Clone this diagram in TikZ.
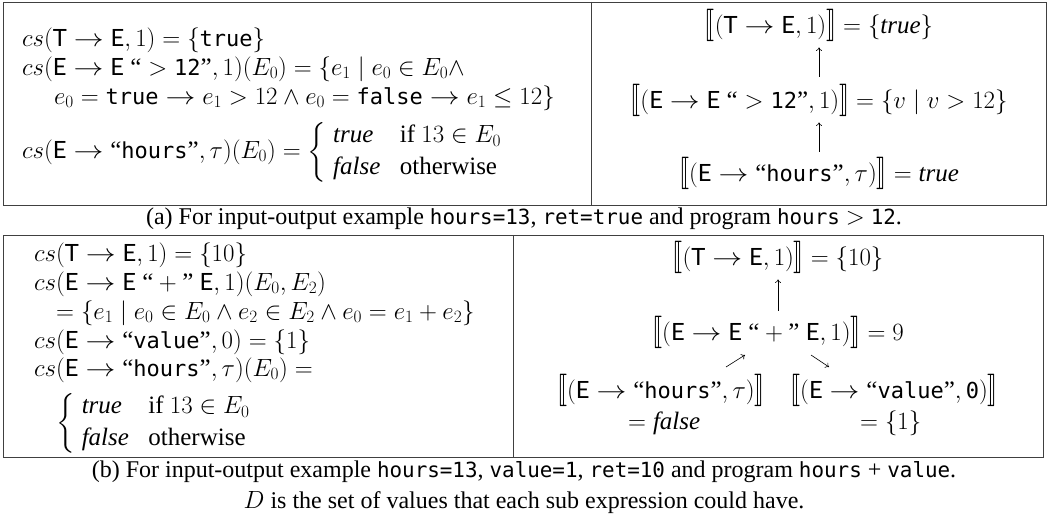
\documentclass[tikz,border=0pt]{standalone}
\usepackage{amsmath}
\usepackage{stmaryrd}
\usepackage{graphicx}
\usepackage{fontspec}
\setmainfont{Liberation Serif}
\setsansfont{Lato}[Scale=0.95]
\setmonofont{DejaVu Sans Mono}[Scale=0.87]
\newfontfamily\mathttfont{DejaVu Sans Mono}[Scale=0.88]
\usetikzlibrary{arrows.meta}
\newcommand{\Tsf}{\mathsf{T}}
\newcommand{\Esf}{\mathsf{E}}
\newcommand{\mtt}[1]{\text{\mathttfont #1}}
\newcommand{\oqt}{\text{“}}
\newcommand{\cqt}{\text{”}}
\newcommand{\ra}{\mathrel{\text{\scalebox{1.2}[1]{$\rightarrow$}}}}
\newcommand{\lsem}{\mathopen{\text{\scalebox{1}[1.3]{$\llbracket$}}}}
\newcommand{\rsem}{\mathclose{\text{\scalebox{1}[1.3]{$\rrbracket$}}}}
\renewcommand{\arraystretch}{1.05}
\tikzset{
  box/.style={line width=0.9pt, draw=black!75},
  txt/.style={inner sep=0pt, font=\fontsize{25}{30}\selectfont},
  captxt/.style={inner sep=0pt, font=\fontsize{24}{29}\selectfont},
  arr/.style={-{To[length=3.5pt,width=6pt]}, line width=0.6pt},
}
\begin{document}
\begin{tikzpicture}[x=1pt,y=-1pt]
\useasboundingbox (0,0) rectangle (1049,526);
% frames
\draw[box] (3,2) rectangle (1046,205);
\draw[box] (591,2) -- (591,205);
\draw[box] (3,235) rectangle (1043,457);
\draw[box] (513,235) -- (513,457);
% (a) left
\node[txt,anchor=west] (a1) at (22,40) {$cs(\Tsf \ra \Esf, 1) = \{\mtt{true}\}$};
\node[txt,anchor=west] (a2) at (22,69) {$cs(\Esf \ra \Esf\ \oqt > \mtt{12}\cqt, 1)(E_0) = \{e_1 \mid e_0 \in E_0 \wedge$};
\node[txt,anchor=west] (a3) at (54,98) {$e_0 = \mtt{true} \ra e_1 > 12 \wedge e_0 = \mtt{false} \ra e_1 \leq 12\}$};
\node[txt,anchor=west] (a4) at (22,152) {$cs(\Esf \ra \oqt\mtt{hours}\cqt, \tau)(E_0) = \left\{\begin{array}{@{\;}l@{\enspace\;}l} \mathit{true} & \text{if } 13 \in E_0\\ \mathit{false} & \text{otherwise}\end{array}\right.$};
% (a) right
\node[txt] (rt) at (819,25) {$\lsem(\Tsf\ra\Esf,1)\rsem = \{\mathit{true}\}$};
\node[txt] (rm) at (819,100) {$\lsem(\Esf\ra\Esf\ \oqt>\mtt{12}\cqt,1)\rsem = \{v \mid v > 12\}$};
\node[txt] (rb) at (819,173) {$\lsem(\Esf\ra\oqt\mtt{hours}\cqt,\tau)\rsem = \mathit{true}$};
\draw[arr, shorten <=7pt, shorten >=6pt] (rm) -- (rt);
\draw[arr, shorten <=5pt, shorten >=6pt] (rb) -- (rm);
% caption (a)
\node[captxt] (capa) at (524,219) {(a) For input-output example \texttt{hours=13}, \texttt{ret=true} and program \texttt{hours} $>$ \texttt{12}.};
% (b) left
\node[txt,anchor=west] (b1) at (34,255) {$cs(\Tsf\ra\Esf,1) = \{10\}$};
\node[txt,anchor=west] (b2) at (34,284) {$cs(\Esf\ra\Esf\ \oqt+\cqt\ \Esf,1)(E_0,E_2)$};
\node[txt,anchor=west] (b3) at (56,313) {$= \{e_1 \mid e_0\in E_0 \wedge e_2 \in E_2 \wedge e_0 = e_1 + e_2\}$};
\node[txt,anchor=west] (b4) at (34,342) {$cs(\Esf\ra\oqt\mtt{value}\cqt,0) = \{1\}$};
\node[txt,anchor=west] (b5) at (34,370) {$cs(\Esf\ra\oqt\mtt{hours}\cqt,\tau)(E_0) =$};
\node[txt,anchor=west] (b6) at (56,423) {$\left\{\begin{array}{@{\;}l@{\enspace\;}l}\mathit{true} & \text{if } 13\in E_0\\ \mathit{false} & \text{otherwise}\end{array}\right.$};
% (b) right
\node[txt] (bt) at (778,257) {$\lsem(\Tsf\ra\Esf,1)\rsem = \{10\}$};
\node[txt] (bm) at (778,332) {$\lsem(\Esf\ra\Esf\ \oqt+\cqt\ \Esf,1)\rsem = 9$};
\node[txt,anchor=east] (bl) at (765,390) {$\lsem(\Esf\ra\oqt\mtt{hours}\cqt,\tau)\rsem$};
\node[txt,anchor=west] (br) at (790,390) {$\lsem(\Esf\ra\oqt\mtt{value}\cqt,\mtt{0})\rsem$};
\node[txt,anchor=west] (blv) at ([xshift=-137pt]bl.east |- 0,423) {$= \mathit{false}$};
\node[txt,anchor=west] (brv) at ([xshift=70pt]br.west |- 0,423) {$= \{1\}$};
\draw[arr, shorten <=5pt, shorten >=6pt] (bm) -- (bt);
\coordinate (ne1) at (726,367);
\coordinate (ne2) at (745,355);
\draw[arr] (ne1) -- (ne2);
\coordinate (se1) at (811,355);
\coordinate (se2) at (829,367);
\draw[arr] (se1) -- (se2);
% caption (b) and note
\node[captxt] (capb) at (524,472) {(b) For input-output example \texttt{hours=13}, \texttt{value=1}, \texttt{ret=10} and program \texttt{hours} + \texttt{value}.};
\node[captxt] (note) at (524,503) {$D$ is the set of values that each sub expression could have.};
\end{tikzpicture}
\end{document}
